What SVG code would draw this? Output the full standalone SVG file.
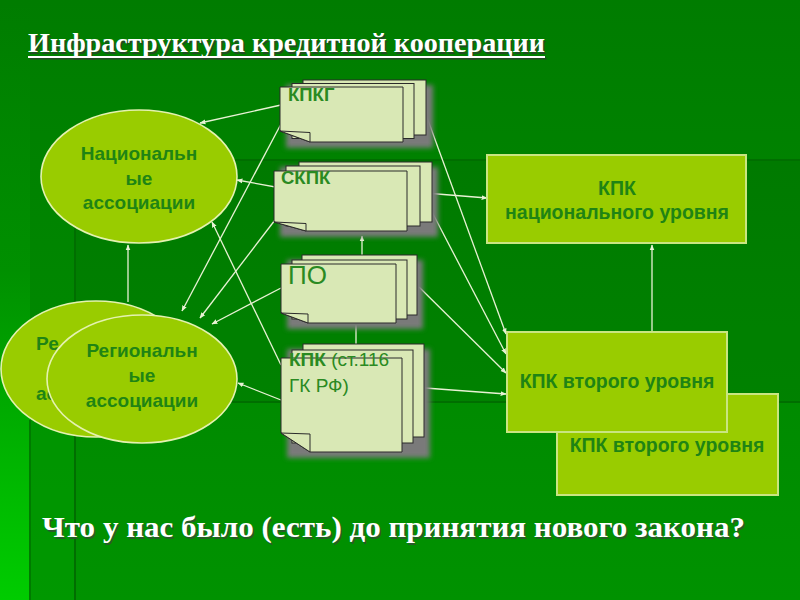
<svg xmlns="http://www.w3.org/2000/svg" width="800" height="600" viewBox="0 0 800 600">
<defs>
<linearGradient id="bg" x1="0" y1="0" x2="0" y2="1"><stop offset="0" stop-color="#007c00"/><stop offset="1" stop-color="#009200"/></linearGradient>
<linearGradient id="strip" x1="0" y1="0" x2="0" y2="1"><stop offset="0" stop-color="#00c800" stop-opacity="0"/><stop offset="0.45" stop-color="#00c800" stop-opacity="0.15"/><stop offset="1" stop-color="#00cc00" stop-opacity="1"/></linearGradient>
<filter id="blur" x="-20%" y="-20%" width="140%" height="140%"><feGaussianBlur stdDeviation="2.5"/></filter>
<marker id="ah" viewBox="0 0 10 10" refX="9" refY="5" markerWidth="6" markerHeight="6" orient="auto" markerUnits="userSpaceOnUse"><path d="M0,1 L10,5 L0,9 Z" fill="#e8f2d4"/></marker>
<style>
.conn line{stroke:#e8f2d4;stroke-width:1.3;fill:none;marker-end:url(#ah)}
.ell{fill:#99cc00;stroke:#e4f2b0;stroke-width:1.6}
.box{fill:#99cc00;stroke:#c9e582;stroke-width:2}
.lbl{font-family:"Liberation Sans",Arial,sans-serif;font-weight:bold;font-size:19px;fill:#1f8414;text-anchor:middle}
.lbl2{font-family:"Liberation Sans",Arial,sans-serif;font-weight:bold;font-size:19.5px;fill:#1f8414;text-anchor:middle}
.doc{fill:#d9e8b5;stroke:#2a2a2a;stroke-width:1}
.shadow{fill:#7a7a7a;filter:url(#blur)}
.dtxt{font-family:"Liberation Sans",Arial,sans-serif;fill:#2a8a22}
.title{font-family:"Liberation Serif","Times New Roman",serif;font-weight:bold}
</style>
</defs>
<g id="background">
<rect x="0" y="0" width="800" height="600" fill="url(#bg)"/>
<rect x="75" y="160" width="725" height="242" fill="#000" fill-opacity="0.06"/>
<rect x="30" y="420" width="45" height="180" fill="#00a000" fill-opacity="0.45"/>
<rect x="0" y="0" width="30" height="600" fill="url(#strip)"/>
<line x1="75" y1="160" x2="800" y2="160" stroke="#006e00" stroke-width="2"/>
<line x1="75" y1="160" x2="75" y2="600" stroke="#006e00" stroke-width="2"/>
<line x1="75" y1="402" x2="800" y2="402" stroke="#006e00" stroke-width="2"/>
<line x1="30" y1="420" x2="30" y2="600" stroke="#007a00" stroke-width="2"/>
</g>
<g id="title">
<text class="title" x="29.5" y="53.5" font-size="27" fill="#244a24" textLength="517" lengthAdjust="spacingAndGlyphs">Инфраструктура кредитной кооперации</text>
<line x1="29.5" y1="58.5" x2="546.5" y2="58.5" stroke="#244a24" stroke-width="2"/>
<text class="title" x="28" y="52" font-size="27" fill="#ffffff" textLength="517" lengthAdjust="spacingAndGlyphs">Инфраструктура кредитной кооперации</text>
<line x1="28" y1="57" x2="545" y2="57" stroke="#ffffff" stroke-width="2"/>
</g>
<g id="connectors" class="conn">
<line x1="281" y1="105" x2="200" y2="123"/>
<line x1="281" y1="124" x2="182" y2="311"/>
<line x1="275" y1="220" x2="200" y2="318"/>
<line x1="281" y1="288" x2="212" y2="324"/>
<line x1="281" y1="188" x2="237" y2="180"/>
<line x1="281" y1="365" x2="212" y2="222"/>
<line x1="281" y1="400" x2="238" y2="383"/>
<line x1="128" y1="302" x2="128" y2="245"/>
<line x1="362" y1="262" x2="362" y2="236"/>
<line x1="356" y1="325" x2="356" y2="354"/>
<line x1="652" y1="332" x2="652" y2="245"/>
<line x1="425" y1="193" x2="487" y2="198"/>
<line x1="425" y1="112" x2="506" y2="334"/>
<line x1="432" y1="212" x2="506" y2="354"/>
<line x1="419" y1="287" x2="506" y2="373"/>
<line x1="425" y1="388" x2="506" y2="394"/>
</g>
<g id="nat-assoc">
<ellipse class="ell" cx="139" cy="176.5" rx="98" ry="66.5"/>
<text class="lbl" x="139" y="160">Национальн</text>
<text class="lbl" x="139" y="185">ые</text>
<text class="lbl" x="139" y="209">ассоциации</text>
</g>
<g id="reg-assoc-back">
<ellipse class="ell" cx="96" cy="369" rx="95" ry="68"/>
<text class="lbl" x="36" y="350" style="text-anchor:start">Ре</text>
<text class="lbl" x="36" y="400" style="text-anchor:start">ас</text>
</g>
<g id="reg-assoc">
<ellipse class="ell" cx="142" cy="379" rx="95" ry="64"/>
<text class="lbl" x="142" y="357">Региональн</text>
<text class="lbl" x="142" y="382">ые</text>
<text class="lbl" x="142" y="407">ассоциации</text>
</g>
<g id="kpkg">
<rect class="shadow" x="286" y="85" width="147" height="63"/>
<rect class="doc" x="303" y="80" width="123" height="55"/>
<rect class="doc" x="292" y="83.5" width="122" height="55"/>
<path class="doc" d="M280,87 H403 V142 H310 L280,131 Z"/>
<path class="doc" d="M280,131 L310,132.5 L310,142 Z"/>
<text class="dtxt" x="288" y="101" style="font-size:18.5px;font-weight:bold">КПКГ</text>
</g>
<g id="skpk">
<rect class="shadow" x="280" y="167" width="158" height="70"/>
<rect class="doc" x="299" y="162" width="133" height="60"/>
<rect class="doc" x="286" y="166" width="134" height="60"/>
<path class="doc" d="M274,171 H407 V231 H306 L274,222 Z"/>
<path class="doc" d="M274,222 L306,223.5 L306,231 Z"/>
<text class="dtxt" x="281" y="184" style="font-size:18.5px;font-weight:bold">СКПК</text>
</g>
<g id="po">
<rect class="shadow" x="287" y="260" width="136" height="69"/>
<rect class="doc" x="302" y="255" width="115" height="60"/>
<rect class="doc" x="292" y="260" width="115" height="59"/>
<path class="doc" d="M281,264 H396 V323 H308 L281,313 Z"/>
<path class="doc" d="M281,313 L308,314 L308,323 Z"/>
<text class="dtxt" x="288" y="284" style="font-size:26px">ПО</text>
</g>
<g id="kpk-doc">
<rect class="shadow" x="287" y="349" width="143" height="109"/>
<rect class="doc" x="303" y="344" width="121" height="93"/>
<rect class="doc" x="292" y="350" width="121" height="93"/>
<path class="doc" d="M281,358 H402 V452 H310 L281,433 Z"/>
<path class="doc" d="M281,433 L310,434 L310,452 Z"/>
<text class="dtxt" x="289" y="366" style="font-size:19px"><tspan font-weight="bold">КПК</tspan> (ст.116</text>
<text class="dtxt" x="289" y="392" style="font-size:19px">ГК РФ)</text>
</g>
<g id="kpk-national">
<rect class="box" x="487" y="155" width="259" height="88"/>
<text class="lbl2" x="617" y="195">КПК</text>
<text class="lbl2" x="617" y="219">национального уровня</text>
</g>
<g id="kpk-second-back">
<rect class="box" x="557" y="394" width="221" height="101"/>
<text class="lbl2" x="667" y="452">КПК второго уровня</text>
</g>
<g id="kpk-second">
<rect class="box" x="507" y="332" width="220" height="100"/>
<text class="lbl2" x="617" y="388">КПК второго уровня</text>
</g>
<g id="question">
<text class="title" x="43.5" y="538.5" font-size="30" fill="#2a5a2a" textLength="703" lengthAdjust="spacingAndGlyphs">Что у нас было (есть) до принятия нового закона?</text>
<text class="title" x="42" y="537" font-size="30" fill="#ffffff" textLength="703" lengthAdjust="spacingAndGlyphs">Что у нас было (есть) до принятия нового закона?</text>
</g>
</svg>
